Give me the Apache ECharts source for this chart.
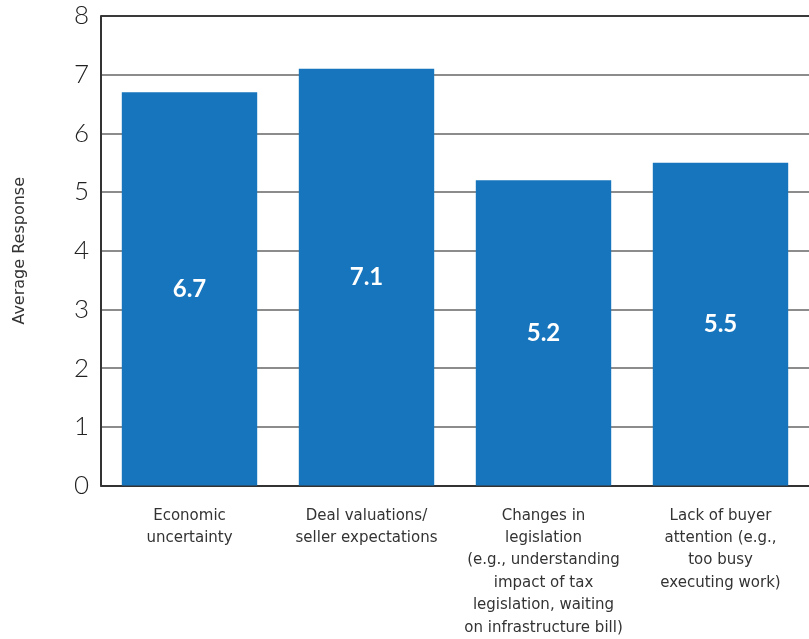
<!DOCTYPE html>
<html>
<head>
<meta charset="utf-8">
<script src="https://cdn.jsdelivr.net/npm/echarts@6/dist/echarts.min.js"></script>
<style>
  html, body { margin: 0; padding: 0; background: #fff; }
  #chart { width: 809px; height: 639px; }
</style>
</head>
<body>
<div id="chart"></div>
<script>
// Obstacles to completing deals: average response per factor
const categories = [
  'Economic\nuncertainty',
  'Deal valuations/\nseller expectations',
  'Changes in\nlegislation\n(e.g., understanding\nimpact of tax\nlegislation, waiting\non infrastructure bill)',
  'Lack of buyer\nattention (e.g.,\ntoo busy\nexecuting work)'
];
const averageResponse = [6.7, 7.1, 5.2, 5.5];
const yTicks = [0, 1, 2, 3, 4, 5, 6, 7, 8];

const chart = echarts.init(document.getElementById('chart'), null, { renderer: 'canvas' });

// grid lines: light grey, with the top (8) line drawn dark like a frame edge
const gridColors = yTicks.map((t, i) => i === yTicks.length - 1 ? '#3a3a3a' : '#8c8c8c');

chart.setOption({
  animation: false,
  grid: { left: 101, width: 715, top: 16, height: 475, containLabel: false },
  xAxis: {
    type: 'category',
    data: categories,
    axisLine: { show: true, lineStyle: { color: '#333', width: 2 } },
    axisTick: { show: false },
    axisLabel: {
      interval: 0,
      margin: 19,
      color: '#333',
      fontFamily: '"DejaVu Sans", sans-serif',
      fontSize: 15,
      lineHeight: 22.4,
      align: 'center'
    }
  },
  yAxis: {
    type: 'value',
    min: yTicks[0],
    max: yTicks[yTicks.length - 1],
    interval: 1,
    name: 'Average Response',
    nameLocation: 'middle',
    nameGap: 73,
    nameRotate: 90,
    nameTextStyle: { color: '#333', fontSize: 16, fontFamily: '"DejaVu Sans", sans-serif' },
    axisLine: { show: true, lineStyle: { color: '#333', width: 2 } },
    axisTick: { show: false },
    axisLabel: {
      margin: 12,
      color: '#222',
      fontSize: 26,
      fontFamily: 'Lato, "Noto Sans", sans-serif',
      fontWeight: 300
    },
    splitLine: { show: true, lineStyle: { color: gridColors, width: 2 } }
  },
  series: [{
    type: 'bar',
    data: averageResponse,
    barWidth: '76.5%',
    itemStyle: { color: '#1675bc' },
    label: {
      show: true,
      position: 'inside',
      color: '#fff',
      fontSize: 24,
      fontWeight: 'bold',
      fontFamily: 'Lato, "Noto Sans", sans-serif',
      formatter: p => p.value.toFixed(1)
    }
  }]
});
</script>
</body>
</html>
